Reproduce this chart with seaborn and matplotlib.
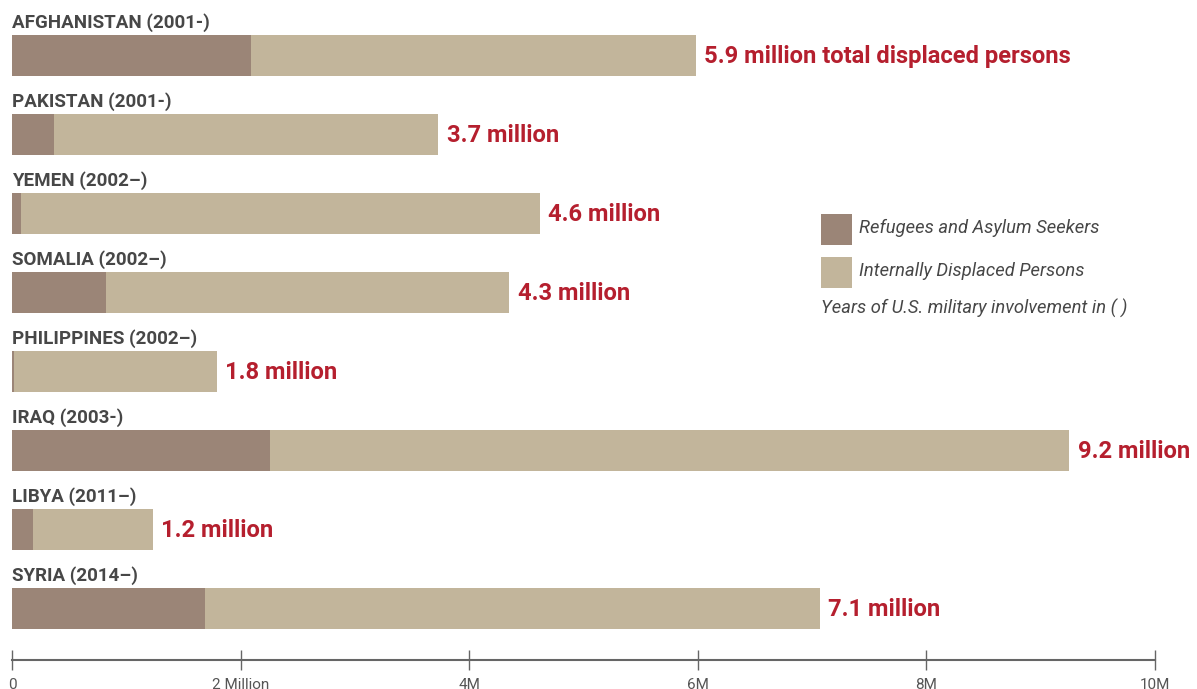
import matplotlib
matplotlib.use("Agg")
import matplotlib.pyplot as plt
import seaborn as sns
import numpy as np
import pandas as pd
from matplotlib.patches import Rectangle

# ---- data (in millions) ----
categories = ["AFGHANISTAN (2001-)", "PAKISTAN (2001-)", "YEMEN (2002\u2013)",
              "SOMALIA (2002\u2013)", "PHILIPPINES (2002\u2013)", "IRAQ (2003-)",
              "LIBYA (2011\u2013)", "SYRIA (2014\u2013)"]
refugees = [2.09, 0.37, 0.08, 0.82, 0.02, 2.26, 0.18, 1.69]
totals = [5.98, 3.73, 4.62, 4.35, 1.79, 9.25, 1.23, 7.07]
value_labels = ["5.9 million total displaced persons", "3.7 million", "4.6 million",
                "4.3 million", "1.8 million", "9.2 million", "1.2 million", "7.1 million"]
tick_values = [0, 2, 4, 6, 8, 10]
tick_labels = ["0", "2 Million", "4M", "6M", "8M", "10M"]
legend_labels = ["Refugees and Asylum Seekers", "Internally Displaced Persons"]
note = "Years of U.S. military involvement in ( )"

REF_COLOR = "#9b8577"
IDP_COLOR = "#c2b59b"
RED = "#b51f2e"
DARK = "#474747"

sns.set_theme(style="white")
plt.rcParams["font.family"] = ["Roboto", "DejaVu Sans"]

W, H = 1197, 689
fig = plt.figure(figsize=(W / 100, H / 100), dpi=100)
ax_left, ax_right = 12 / W, 1155 / W
ax_top, ax_bottom = 0, 660
ax = fig.add_axes([ax_left, 1 - ax_bottom / H, ax_right - ax_left, (ax_bottom - ax_top) / H])

df = pd.DataFrame({"cat": categories, "ref": refugees, "tot": totals})
sns.barplot(data=df, x="tot", y="cat", orient="h", color=IDP_COLOR, width=0.52,
            saturation=1, ax=ax, order=categories, linewidth=0, edgecolor="none")
sns.barplot(data=df, x="ref", y="cat", orient="h", color=REF_COLOR, width=0.52,
            saturation=1, ax=ax, order=categories, linewidth=0, edgecolor="none")

# layout: bar centre px = 55.5 + 79*i
ax.set_xlim(0, 10)
y0 = -55.5 / 79
y1 = (660 - 55.5) / 79
ax.set_ylim(y1, y0)

# category labels above bars
for i, c in enumerate(categories):
    ax.text(0, i - 0.35, c, ha="left", va="baseline", fontsize=13.5,
            fontweight="bold", color=DARK, clip_on=False)

# value labels right of bars
for i, (t, lab) in enumerate(zip(totals, value_labels)):
    ax.annotate(lab, xy=(t, i), xytext=(6, -1), textcoords="offset points",
                ha="left", va="center", fontsize=17.1, fontweight="bold",
                color=RED, annotation_clip=False)

# axes styling
for s in ["top", "right", "left"]:
    ax.spines[s].set_visible(False)
ax.spines["bottom"].set_color("#666666")
ax.spines["bottom"].set_linewidth(1.5)
ax.set_yticks([])
ax.set_ylabel("")
ax.set_xlabel("")
ax.set_xticks(tick_values)
ax.set_xticklabels(tick_labels)
ax.tick_params(axis="x", direction="inout", length=14, width=1, color="#666666",
               labelsize=11, labelcolor="#555555", pad=6, bottom=True)

# legend (manual)
colors = [REF_COLOR, IDP_COLOR]
sq_tops = [214, 257]
for lab, col, top in zip(legend_labels, colors, sq_tops):
    fig.patches.append(Rectangle((821 / W, 1 - (top + 31) / H), 31 / W, 31 / H,
                                 transform=fig.transFigure, facecolor=col,
                                 edgecolor="none"))
    fig.text(859 / W, 1 - (top + 14) / H, lab, ha="left", va="center",
             fontsize=13.2, style="italic", color=DARK)
fig.text(821 / W, 1 - 308 / H, note, ha="left", va="center", fontsize=13.2,
         style="italic", color=DARK)

fig.savefig("out.png", dpi=100)
